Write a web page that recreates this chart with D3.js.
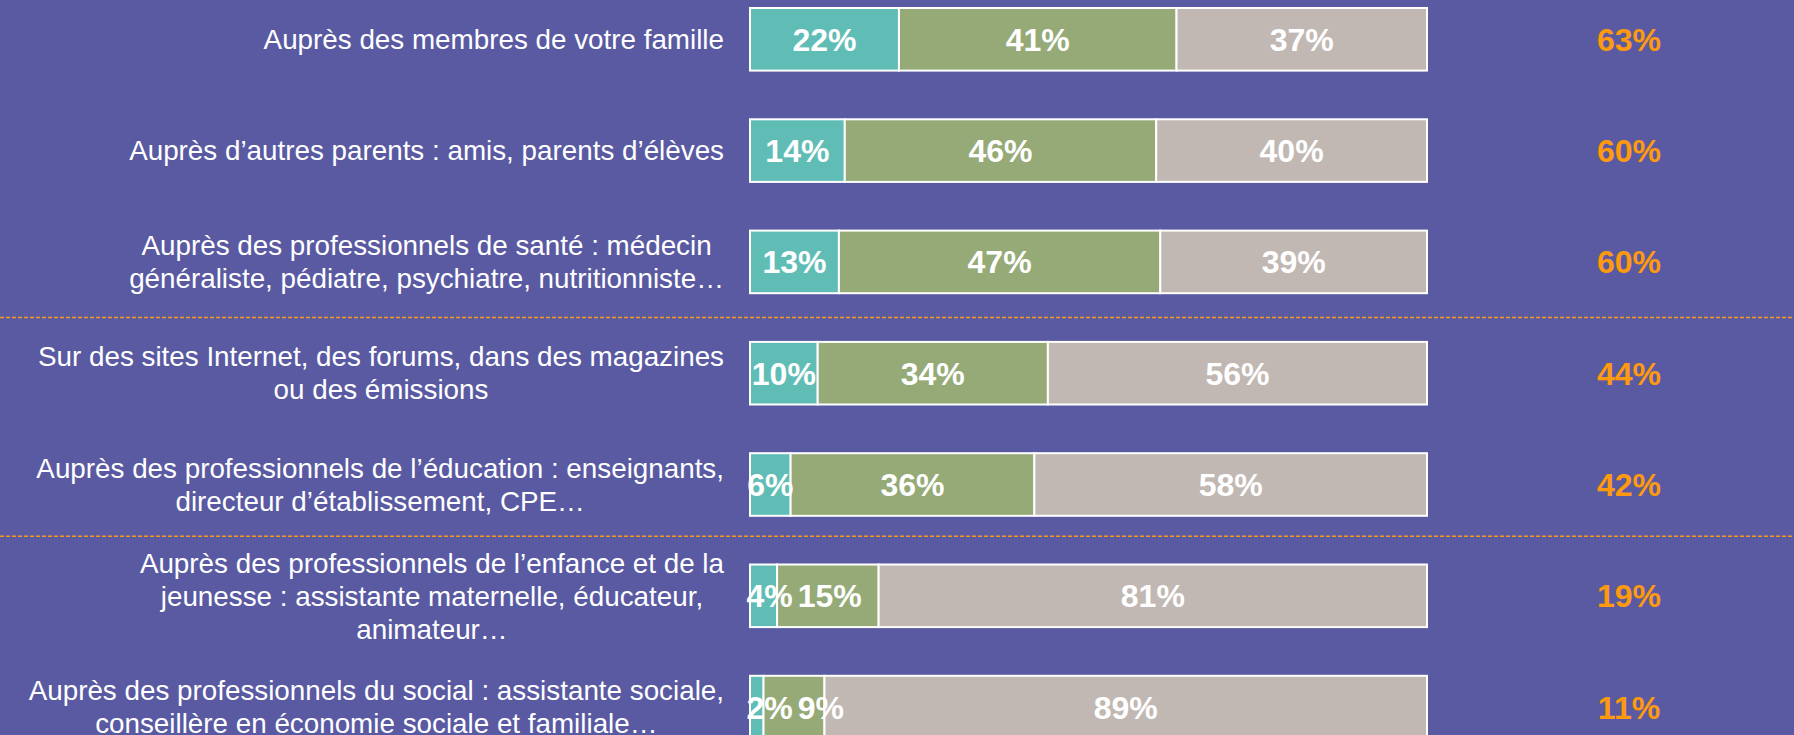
<!DOCTYPE html>
<html>
<head>
<meta charset="utf-8">
<script src="https://cdn.jsdelivr.net/npm/d3@7"></script>
<style>
  html, body { margin: 0; padding: 0; background: #5A5AA2; overflow: hidden; }
  #graph { width: 1794px; height: 735px; }
  text { font-family: "Liberation Sans", Arial, sans-serif; }
</style>
</head>
<body>
<div id="graph"></div>
<script>
// rows, top to bottom (label lines as they break in the picture)
const labels = [
    ["Auprès des membres de votre famille"],
    ["Auprès d’autres parents : amis, parents d’élèves"],
    ["Auprès des professionnels de santé : médecin", "généraliste, pédiatre, psychiatre, nutritionniste…"],
    ["Sur des sites Internet, des forums, dans des magazines", "ou des émissions"],
    ["Auprès des professionnels de l’éducation : enseignants,", "directeur d’établissement, CPE…"],
    ["Auprès des professionnels de l’enfance et de la", "jeunesse : assistante maternelle, éducateur,", "animateur…"],
    ["Auprès des professionnels du social : assistante sociale,", "conseillère en économie sociale et familiale…"]
];
const often = [22, 14, 13, 10, 6, 4, 2];
const sometimes = [41, 46, 47, 34, 36, 15, 9];
const never = [37, 40, 39, 56, 58, 81, 89];
const totals = [63, 60, 60, 44, 42, 19, 11];
const separatorsAfter = [2, 4]; // dashed line below these row indexes

const segColors = ["#5FBDB6", "#95AA77", "#C1B8B3"];
const orange = "#FF9A0E";

const W = 1794, H = 735;

function container() {
    return document.querySelector("#graph");
}

function main() {
    const svg = d3.select(container()).append("svg")
        .attr("width", W)
        .attr("height", H);

    const rows = d3.range(labels.length);
    const x = d3.scaleLinear().domain([0, 100]).range([750, 1427]);
    const y = d3.scaleBand().domain(rows).range([8, 738.4]).paddingInner(0.4376).paddingOuter(0);

    // stacked segments, each row normalised to 100
    const segs = [];
    rows.forEach(i => {
        const vals = [often[i], sometimes[i], never[i]];
        const sum = d3.sum(vals);
        let acc = 0;
        vals.forEach((v, k) => {
            const x0 = acc / sum * 100;
            acc += v;
            segs.push({ row: i, k, v, x0, x1: acc / sum * 100 });
        });
    });

    const bars = svg.append("g");
    bars.selectAll("rect")
        .data(segs)
        .join("rect")
        .attr("x", d => x(d.x0))
        .attr("y", d => y(d.row))
        .attr("width", d => x(d.x1) - x(d.x0))
        .attr("height", y.bandwidth())
        .attr("fill", d => segColors[d.k])
        .attr("stroke", "#FFFFFF")
        .attr("stroke-width", 2);

    const segText = bars.selectAll("text")
        .data(segs)
        .join("text")
        .attr("y", d => y(d.row) + y.bandwidth() / 2)
        .attr("dy", "0.36em")
        .attr("fill", "#FFFFFF")
        .style("font-size", "32px")
        .style("font-weight", "bold")
        .text(d => d.v + "%");

    // centre labels in their segment, then push apart the ones that collide
    const nodes = segText.nodes();
    rows.forEach(i => {
        let prevRight = -Infinity;
        segs.forEach((d, n) => {
            if (d.row !== i) return;
            const w = nodes[n].getComputedTextLength();
            let left = (x(d.x0) + x(d.x1)) / 2 - w / 2;
            if (d.k === 0) left = Math.max(left, x(0) - 3.5);
            left = Math.max(left, prevRight + 5);
            prevRight = left + w;
            d3.select(nodes[n]).attr("x", left);
        });
    });

    // left labels: block right-aligned, lines centred within the block
    const lineH = 33;
    const rightEdge = 724;
    const lab = svg.append("g")
        .style("font-size", "27.8px")
        .attr("fill", "#FFFFFF");
    rows.forEach(i => {
        const g = lab.append("g");
        const lines = labels[i];
        const cy = y(i) + y.bandwidth() / 2;
        const t = g.selectAll("text")
            .data(lines)
            .join("text")
            .attr("y", (d, j) => cy + (j - (lines.length - 1) / 2) * lineH)
            .attr("dy", "0.35em")
            .attr("text-anchor", "middle")
            .text(d => d);
        const maxW = d3.max(t.nodes(), n => n.getComputedTextLength());
        t.attr("x", rightEdge - maxW / 2);
    });

    // totals on the right
    svg.append("g")
        .selectAll("text")
        .data(rows)
        .join("text")
        .attr("x", 1629)
        .attr("y", i => y(i) + y.bandwidth() / 2)
        .attr("dy", "0.36em")
        .attr("text-anchor", "middle")
        .attr("fill", orange)
        .style("font-size", "32px")
        .style("font-weight", "bold")
        .text(i => totals[i] + "%");

    // dashed separators (the lower one sits a bit higher in its gap)
    const gapShare = [0.5, 0.42];
    const sepY = (i, j) => y(i) + y.bandwidth() + (y(i + 1) - y(i) - y.bandwidth()) * gapShare[j];
    svg.append("g")
        .selectAll("line")
        .data(separatorsAfter)
        .join("line")
        .attr("x1", 0)
        .attr("x2", W)
        .attr("y1", (i, j) => sepY(i, j))
        .attr("y2", (i, j) => sepY(i, j))
        .attr("stroke", "#F39A1E")
        .attr("stroke-width", 1.5)
        .attr("stroke-dasharray", "4,2");
}

main();
</script>
</body>
</html>
